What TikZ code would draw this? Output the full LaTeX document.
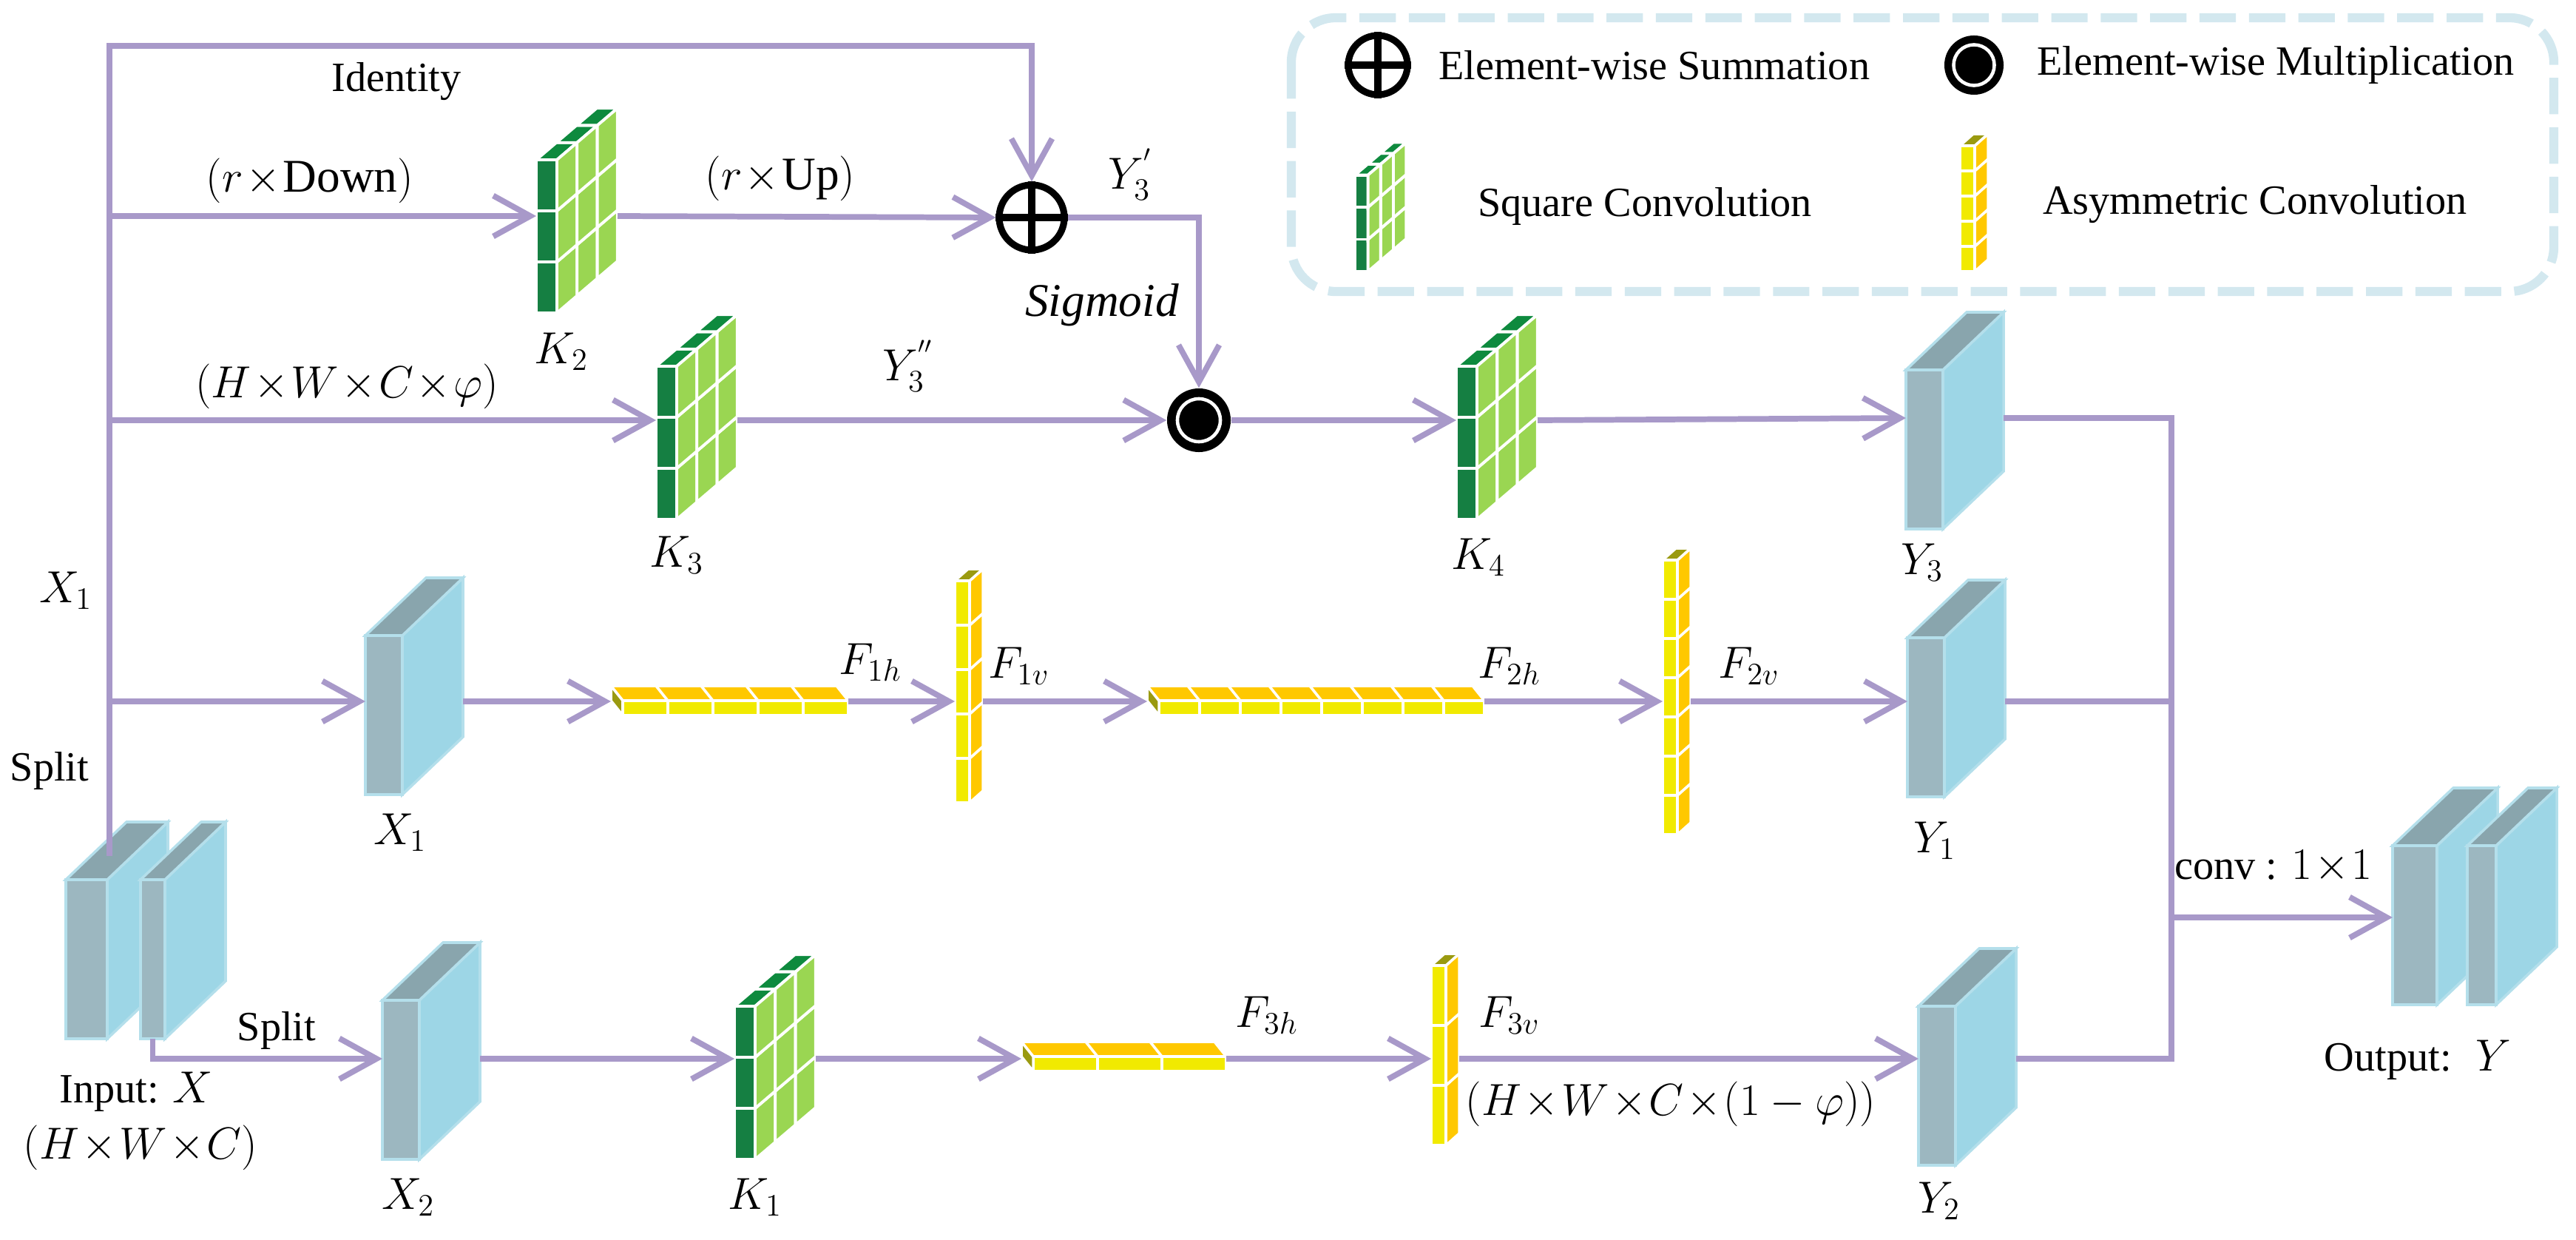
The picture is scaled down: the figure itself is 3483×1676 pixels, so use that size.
\documentclass[tikz,border=0pt]{standalone}
\usepackage{fontspec}
\setmainfont{Liberation Serif}
\usepackage{amsmath}
\usepackage{tikz}
\usetikzlibrary{arrows.meta, positioning, calc}

\definecolor{flowc}{HTML}{A899C9}
\definecolor{mapfr}{HTML}{9CB7C0}
\definecolor{mapsd}{HTML}{9DD6E6}
\definecolor{maptp}{HTML}{89A5AD}
\definecolor{mapln}{HTML}{B4DFEB}
\definecolor{kdark}{HTML}{157F42}
\definecolor{ktopc}{HTML}{0E8A3E}
\definecolor{klight}{HTML}{9AD652}
\definecolor{ayel}{HTML}{F1EA00}
\definecolor{aorg}{HTML}{FFC800}
\definecolor{aoli}{HTML}{9A9A10}
\definecolor{legln}{HTML}{D3E8EF}

\newcommand{\tm}{\!\times\!}

\tikzset{
  flow/.style={draw=flowc, line width=2.2pt},
  arr/.style={flow, -{Straight Barb[length=5mm,width=5.5mm]}},
  mapfront/.style={fill=mapfr, draw=mapln, line width=1pt},
  mapside/.style={fill=mapsd, draw=mapln, line width=1pt},
  maptop/.style={fill=maptp, draw=mapln, line width=1pt},
  kfront/.style={fill=kdark, draw=white, line width=1.1pt},
  kside/.style={fill=klight, draw=white, line width=1.1pt},
  ktop/.style={fill=ktopc, draw=white, line width=1.1pt},
  yfront/.style={fill=ayel, draw=white, line width=1pt},
  yside/.style={fill=aorg, draw=white, line width=1pt},
  ycap/.style={fill=aoli, draw=white, line width=1pt},
  txt/.style={font=\fontsize{16}{19}\selectfont, inner sep=1pt},
  mth/.style={font=\fontsize{18}{22}\selectfont, inner sep=1pt},
}

% feature map: name, x, bottom, front width, row
\newcommand{\fmap}[5]{%
  \filldraw[mapside] ({#2+#4},#3) -- ++(82,-78) -- ++(0,-215) -- ++(-82,78) -- cycle;
  \filldraw[maptop] (#2,{#3-215}) -- ++(#4,0) -- ++(82,-78) -- ++(-#4,0) -- cycle;
  \filldraw[mapfront] (#2,#3) rectangle ++(#4,-215);
  \coordinate (#1-w) at (#2,#5);
  \coordinate (#1-e) at ({#2+#4+82},#5);
  \coordinate (#1-b) at ({#2+#4/2},#3);
}
% square kernel: name, x, bottom, row, scale
\newcommand{\sqconv}[5]{%
  \begin{scope}[shift={(#2,#3)}, scale=#5]
    \foreach \i in {0,1,2}{
      \filldraw[kfront] (0,{-\i*69}) rectangle ++(28,-69);
      \foreach \j in {0,1,2}
        \filldraw[kside] ({28+\j*27.3},{-\i*69-\j*23.3}) -- ++(27.3,-23.3) -- ++(0,-69) -- ++(-27.3,23.3) -- cycle;
      \filldraw[ktop] ({\i*27.3},{-207-\i*23.3}) -- ++(28,0) -- ++(27.3,-23.3) -- ++(-28,0) -- cycle;
    }
  \end{scope}
  \coordinate (#1-w) at (#2,#4);
  \coordinate (#1-e) at ({#2+110},#4);
}
% vertical asymmetric kernel: name, x, bottom, cells, cell height, row
\newcommand{\asymv}[6]{%
  \foreach \i in {1,...,#4}{
    \filldraw[yfront] (#2,{#3-(\i-1)*#5}) rectangle ++(20,-#5);
    \filldraw[yside] ({#2+20},{#3-(\i-1)*#5}) -- ++(18,-16) -- ++(0,-#5) -- ++(-18,16) -- cycle;
  }
  \filldraw[ycap] (#2,{#3-#4*#5}) -- ++(20,0) -- ++(18,-16) -- ++(-20,0) -- cycle;
  \coordinate (#1-w) at (#2,#6);
  \coordinate (#1-e) at ({#2+38},#6);
}
% horizontal asymmetric kernel: name, x, bottom, cells, cell width, row
\newcommand{\asymh}[6]{%
  \foreach \i in {1,...,#4}{
    \filldraw[yfront] ({#2+(\i-1)*#5},#3) rectangle ++(#5,-20);
    \filldraw[yside] ({#2+(\i-1)*#5},{#3-20}) -- ++(#5,0) -- ++(-16,-20) -- ++(-#5,0) -- cycle;
  }
  \filldraw[ycap] (#2,#3) -- ++(0,-20) -- ++(-16,-20) -- ++(0,20) -- cycle;
  \coordinate (#1-w) at ({#2-16},#6);
  \coordinate (#1-e) at ({#2+#4*#5},#6);
}

\begin{document}
\begin{tikzpicture}[x=0.01cm, y=-0.01cm]
    \useasboundingbox (0,0) rectangle (3483,1676);

    % legend
    \draw[legln, line width=3.5pt, dash pattern=on 14pt off 5pt, rounded corners=0.6cm] (1746,24) rectangle (3453,394);
    \node[circle, draw, line width=2.6pt, minimum size=0.8cm, inner sep=0] (lsum) at (1863,88) {};
    \draw[line width=2.6pt] (lsum.north) -- (lsum.south) (lsum.west) -- (lsum.east);
    \node[txt, anchor=west] (lsumt) at (1941,88) {Element-wise Summation};
    \node[circle, fill=black, minimum size=0.8cm, inner sep=0] (lmul) at (2669,88) {};
    \node[circle, fill=black, draw=white, line width=1.3pt, minimum size=0.55cm, inner sep=0] (lmulin) at (lmul) {};
    \node[txt, anchor=west] (lmult) at (2750,88) {Element-wise Multiplication};
    \sqconv{lsq}{1832}{367}{280}{0.63}
    \node[txt, anchor=west] (lsqt) at (1994,279) {Square Convolution};
    \asymv{lasy}{2650}{367}{5}{34}{276}
    \node[txt, anchor=west] (lasyt) at (2758,276) {Asymmetric Convolution};

    % blocks
    \fmap{in1}{89}{1404}{56}{1300}
    \fmap{in2}{190}{1404}{33}{1300}
    \fmap{x1}{494}{1074}{50}{948}
    \fmap{x2}{517}{1567}{50}{1431}
    \fmap{y3}{2577}{715}{50}{565}
    \fmap{y1}{2579}{1077}{50}{948}
    \fmap{y2}{2594}{1575}{50}{1431}
    \fmap{out1}{3235}{1358}{60}{1240}
    \fmap{out2}{3336}{1358}{39}{1240}
    \sqconv{k2}{725}{423}{292}{1}
    \sqconv{k3}{887}{702}{568}{1}
    \sqconv{k4}{1969}{702}{568}{1}
    \sqconv{k1}{993}{1567}{1431}{1}
    \asymh{f1h}{842}{967}{5}{61}{948}
    \asymv{f1v}{1291}{1085}{5}{60}{948}
    \asymh{f2h}{1567}{967}{8}{55}{948}
    \asymv{f2v}{2248}{1128}{7}{53}{948}
    \asymh{f3h}{1397}{1448}{3}{87}{1431}
    \asymv{f3v}{1935}{1548}{3}{81}{1431}

    \node[circle, draw, line width=2.6pt, minimum size=0.88cm, inner sep=0] (add) at (1395,294) {};
    \draw[line width=2.6pt] (add.north) -- (add.south) (add.west) -- (add.east);
    \node[circle, fill=black, minimum size=0.86cm, inner sep=0] (mul) at (1621,568) {};
    \node[circle, fill=black, draw=white, line width=1.3pt, minimum size=0.58cm, inner sep=0] (mulin) at (mul) {};

    % connectors
    \coordinate (split) at (148,1157);
    \coordinate (topl) at (148,62);
    \coordinate (sum) at (2936,565);
    \draw[arr] (split) -- (topl) -| (add.north);
    \draw[arr] (split |- k2-w) -- (k2-w);
    \draw[arr] (k2-e) -- (add.west);
    \draw[arr] (add.east) -| (mul.north);
    \draw[arr] (split |- k3-w) -- (k3-w);
    \draw[arr] (k3-e) -- (mul.west);
    \draw[arr] (mul.east) -- (k4-w);
    \draw[arr] (k4-e) -- (y3-w);
    \draw[arr] (split |- x1-w) -- (x1-w);
    \draw[arr] (x1-e) -- (f1h-w);
    \draw[arr] (f1h-e) -- (f1v-w);
    \draw[arr] (f1v-e) -- (f2h-w);
    \draw[arr] (f2h-e) -- (f2v-w);
    \draw[arr] (f2v-e) -- (y1-w);
    \draw[arr] (in2-b) |- (x2-w);
    \draw[arr] (x2-e) -- (k1-w);
    \draw[arr] (k1-e) -- (f3h-w);
    \draw[arr] (f3h-e) -- (f3v-w);
    \draw[arr] (f3v-e) -- (y2-w);
    \draw[flow] (y3-e) -- (sum) -- (sum |- y2-e) -- (y2-e);
    \draw[flow] (y1-e) -- (sum |- y1-e);
    \draw[arr] (sum |- out1-w) -- (out1-w);

    % labels
    \node[txt] (lid) at (536,110) {Identity};
    \node[mth] (ldown) at (419,244) {$(r \tm \mathrm{Down})$};
    \node[mth] (lup) at (1055,241) {$(r \tm \mathrm{Up})$};
    \node[mth] (lk2) at (759,475) {$K_2$};
    \node[mth] (ly3a) at (1529,236) {$Y_3^{'}$};
    \node[txt, font=\fontsize{18}{22}\selectfont\itshape] (lsig) at (1490,412) {Sigmoid};
    \node[mth] (lhwc) at (469,522) {$(H \tm W \tm C \tm \varphi)$};
    \node[mth] (lk3) at (915,750) {$K_3$};
    \node[mth] (ly3b) at (1228,495) {$Y_3^{''}$};
    \node[mth] (lk4) at (1999,753) {$K_4$};
    \node[mth] (ly3) at (2599,760) {$Y_3$};
    \node[mth] (lx1a) at (89,798) {$X_1$};
    \node[txt] (lsplit1) at (67,1042) {Split};
    \node[mth] (lx1) at (541,1125) {$X_1$};
    \node[mth] (lf1h) at (1177,895) {$F_{1h}$};
    \node[mth] (lf1v) at (1378,900) {$F_{1v}$};
    \node[mth] (lf2h) at (2041,900) {$F_{2h}$};
    \node[mth] (lf2v) at (2365,900) {$F_{2v}$};
    \node[mth] (ly1) at (2616,1136) {$Y_1$};
    \node[txt] (lconv) at (3074,1171) {conv : $1 \tm 1$};
    \node[txt] (lsplit2) at (374,1393) {Split};
    \node[txt] (lin) at (184,1476) {Input: $X$};
    \node[mth] (linsz) at (190,1551) {$(H \tm W \tm C)$};
    \node[mth] (lx2) at (552,1618) {$X_2$};
    \node[mth] (lk1) at (1021,1618) {$K_1$};
    \node[mth] (lf3h) at (1713,1372) {$F_{3h}$};
    \node[mth] (lf3v) at (2041,1372) {$F_{3v}$};
    \node[mth] (lhwc2) at (2259,1492) {$(H \tm W \tm C \tm (1-\varphi))$};
    \node[mth] (ly2) at (2622,1623) {$Y_2$};
    \node[txt] (lout) at (3269,1433) {Output: \ $Y$};
\end{tikzpicture}
\end{document}
